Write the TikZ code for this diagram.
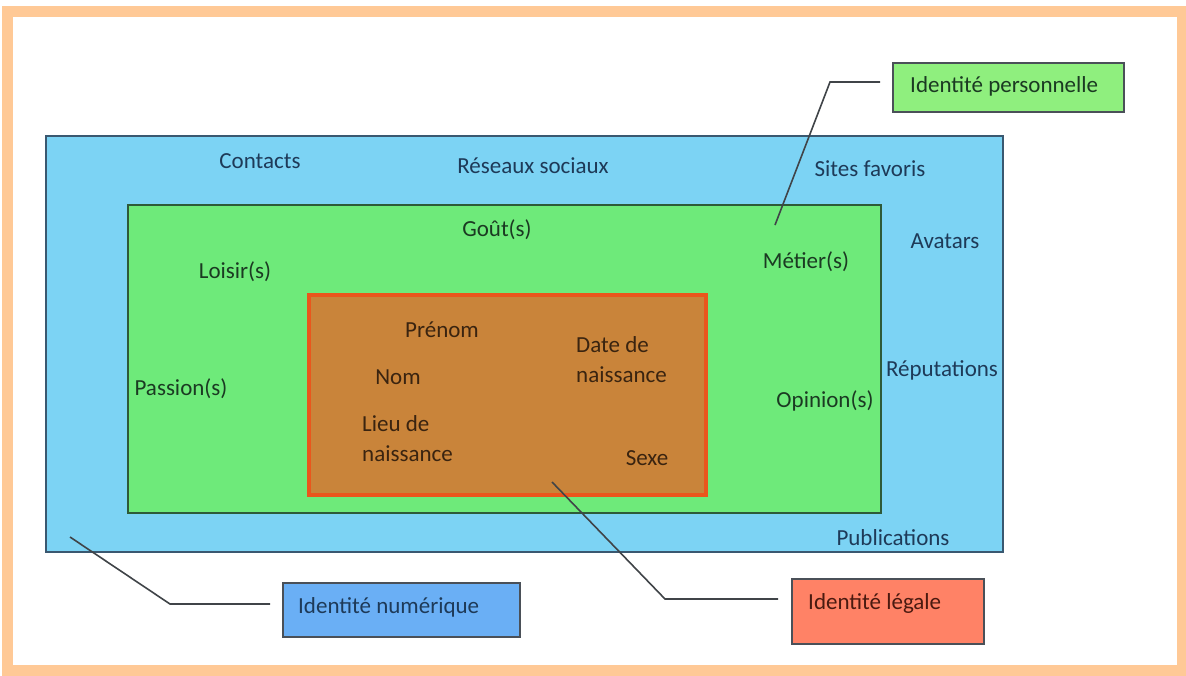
\documentclass[tikz,border=0pt]{standalone}
\usepackage{fontspec}
\setmainfont{Carlito}
\definecolor{frameor}{HTML}{FFC996}
\definecolor{bluefill}{HTML}{7CD3F4}
\definecolor{blueline}{HTML}{3A5870}
\definecolor{greenfill}{HTML}{6EEA7A}
\definecolor{greenline}{HTML}{2E5A38}
\definecolor{brownfill}{HTML}{C9843A}
\definecolor{brownline}{HTML}{EA561C}
\definecolor{persfill}{HTML}{8FEF7E}
\definecolor{numfill}{HTML}{6AAFF5}
\definecolor{legfill}{HTML}{FF8266}
\definecolor{boxline}{HTML}{4A5058}
\definecolor{bluetext}{HTML}{1E3A58}
\definecolor{greentext}{HTML}{1B3A22}
\definecolor{browntext}{HTML}{3A2410}
\definecolor{connline}{HTML}{404448}
\begin{document}
\begin{tikzpicture}[x=1pt,y=-1pt,
  every node/.style={font=\fontsize{23}{30}\selectfont, inner sep=0pt},
  zone/.style={draw, line width=2pt, rectangle},
  lbl/.style={rectangle, draw=boxline, line width=2pt, minimum height=0pt},
  conn/.style={draw=connline, line width=1.6pt},
  btxt/.style={text=bluetext},
  gtxt/.style={text=greentext},
  rtxt/.style={text=browntext, align=left}]
\useasboundingbox (0,0) rectangle (1186,675);
\fill[white] (0,0) rectangle (1186,675);
\draw[frameor, line width=11pt] (7.5,11.5) rectangle (1182,670.5);

% zones
\node[zone, draw=blueline, fill=bluefill, minimum width=957pt, minimum height=416pt] (numzone) at (524.5,344) {};
\node[zone, draw=greenline, fill=greenfill, minimum width=753pt, minimum height=308pt] (perszone) at (504.5,359) {};
\node[zone, draw=brownline, fill=brownfill, line width=3.5pt, minimum width=397pt, minimum height=200pt] (legzone) at (507.5,395) {};

% blue zone texts
\node[btxt] (contacts) at (260,161) {Contacts};
\node[btxt] (reseaux) at (533,166) {Réseaux sociaux};
\node[btxt] (sites) at (870,169) {Sites favoris};
\node[btxt] (avatars) at (945,241) {Avatars};
\node[btxt] (reput) at (942,370) {Réputations};
\node[btxt] (publi) at (893,538) {Publications};

% green zone texts
\node[gtxt] (gouts) at (497,230) {Goût(s)};
\node[gtxt] (loisirs) at (235,272) {Loisir(s)};
\node[gtxt] (metiers) at (806,262) {Métier(s)};
\node[gtxt] (passions) at (181,389) {Passion(s)};
\node[gtxt] (opinions) at (825,401) {Opinion(s)};

% brown zone texts
\node[rtxt] (prenom) at (442,330) {Prénom};
\node[rtxt] (nom) at (398,377) {Nom};
\node[rtxt, anchor=west] (lieu) at (362,439) {Lieu de\\naissance};
\node[rtxt, anchor=west] (date) at (576,360) {Date de\\naissance};
\node[rtxt] (sexe) at (647,458) {Sexe};

% label boxes
\node[lbl, fill=persfill, minimum width=231pt, minimum height=49pt] (pers) at (1008.5,87.5) {};
\node[anchor=west, text=greentext] (perstxt) at (910,86) {Identité personnelle};
\node[lbl, fill=numfill, minimum width=237pt, minimum height=54pt] (num) at (401.5,610) {};
\node[anchor=west, text=bluetext] (numtxt) at (298,607) {Identité numérique};
\node[lbl, fill=legfill, minimum width=192pt, minimum height=65pt] (leg) at (888,611.5) {};
\node[anchor=west, text={rgb,255:red,74;green,26;blue,16}] (legtxt) at (808,603) {Identité légale};

% connectors
\coordinate (pA) at (880,82);
\coordinate (pB) at (830,82);
\coordinate (pC) at (775,225);
\draw[conn] (pA) -- (pB) -- (pC);
\coordinate (nA) at (270,604);
\coordinate (nB) at (170,604);
\coordinate (nC) at (70,537);
\draw[conn] (nA) -- (nB) -- (nC);
\coordinate (lA) at (778,599);
\coordinate (lB) at (665,599);
\coordinate (lC) at (552,482);
\draw[conn] (lA) -- (lB) -- (lC);
\end{tikzpicture}
\end{document}
